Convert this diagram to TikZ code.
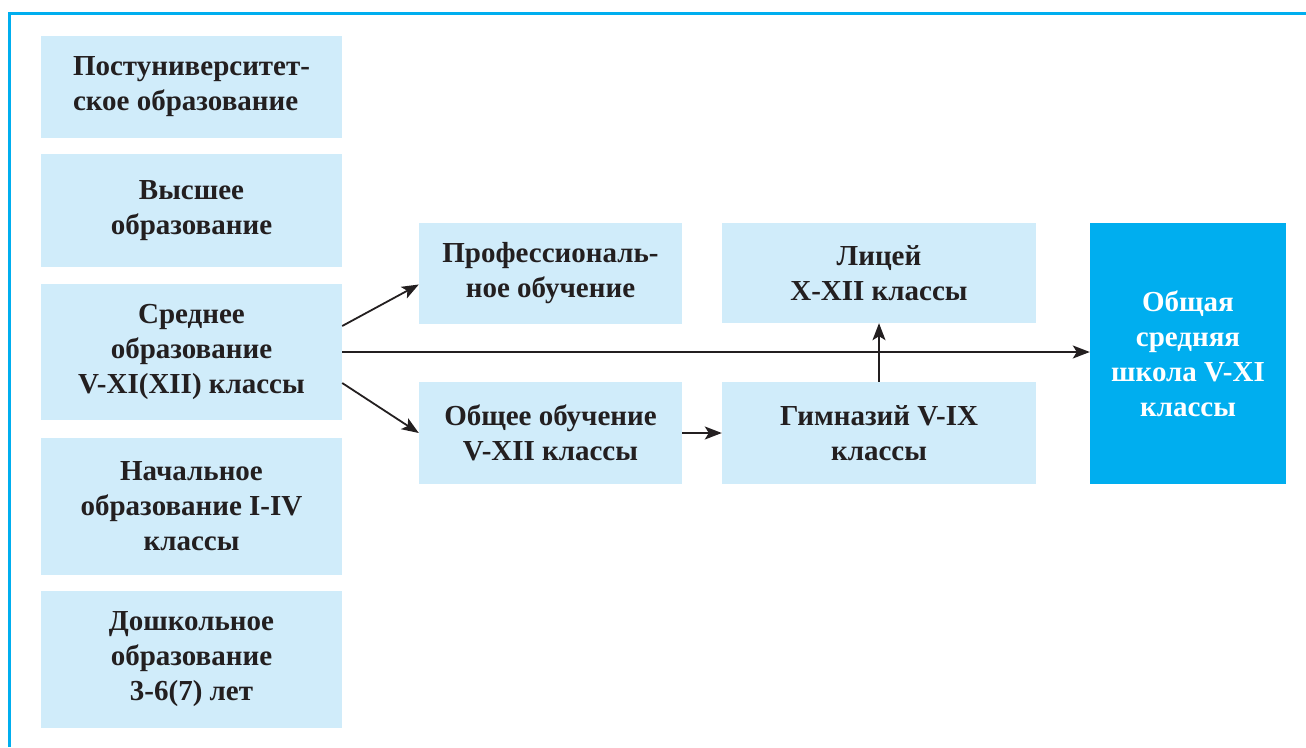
\documentclass[tikz,border=0pt]{standalone}
\usepackage{fontspec}
\setmainfont{Liberation Serif}
\usetikzlibrary{arrows.meta}
\definecolor{lightbox}{RGB}{208,236,250}
\definecolor{cyanframe}{RGB}{0,174,239}
\definecolor{ink}{RGB}{35,31,32}
\tikzset{
  box/.style={fill=lightbox, inner sep=0pt, align=center, text=ink,
    font=\fontsize{29}{35}\selectfont\bfseries},
  darkbox/.style={fill=cyanframe, inner sep=0pt, align=center, text=white,
    font=\fontsize{29}{35}\selectfont\bfseries},
  conn/.style={draw=ink, line width=1.8pt, -{Stealth[length=17pt,width=13pt,inset=4pt]}}
}
\begin{document}
\begin{tikzpicture}[x=1pt,y=-1pt]
\useasboundingbox (0,0) rectangle (1306,747);
% frame
\draw[cyanframe, line width=3pt] (9,747) -- (9,13) -- (1306,13);
% left column
\node[box, minimum width=301pt, minimum height=102pt, align=left] (b1) at (191.5,87) {Постуниверситет-\\ское образование};
\node[box, minimum width=301pt, minimum height=113pt] (b2) at (191.5,210.5) {Высшее\\образование};
\node[box, minimum width=301pt, minimum height=136pt] (b3) at (191.5,352) {Среднее\\образование\\V-XI(XII) классы};
\node[box, minimum width=301pt, minimum height=137pt] (b4) at (191.5,506.5) {Начальное\\образование I-IV\\классы};
\node[box, minimum width=301pt, minimum height=137pt] (b5) at (191.5,659.5) {Дошкольное\\образование\\3-6(7) лет};
% middle
\node[box, minimum width=263pt, minimum height=101pt] (prof) at (550.5,273.5) {Профессиональ-\\ное обучение};
\node[box, minimum width=263pt, minimum height=102pt] (gen) at (550.5,433) {Общее обучение\\V-XII классы};
\node[box, minimum width=314pt, minimum height=100pt] (lyc) at (879,273) {Лицей\\X-XII классы};
\node[box, minimum width=314pt, minimum height=102pt] (gym) at (879,433) {Гимназий V-IX\\классы};
% right
\node[darkbox, minimum width=196pt, minimum height=261pt] (gen2) at (1188,353.5) {Общая\\средняя\\школа V-XI\\классы};
% connectors
\draw[conn] ([yshift=26pt]b3.east) -- ([yshift=-11pt]prof.west);
\draw[conn] ([yshift=-31pt]b3.east) -- (gen.west);
\draw[conn] (b3.east) -- (b3.east -| gen2.west);
\draw[conn] (gen.east) -- (gym.west);
\draw[conn] (gym.north) -- (lyc.south);
\end{tikzpicture}
\end{document}
